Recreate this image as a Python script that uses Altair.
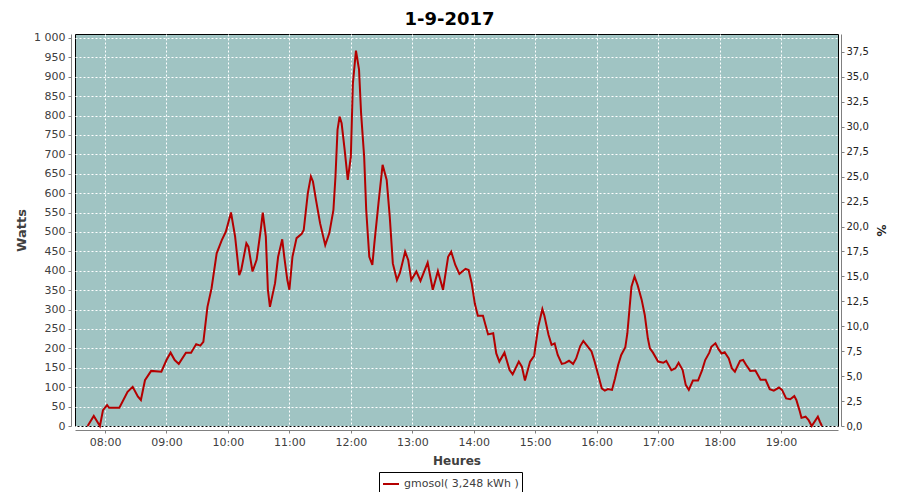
import altair as alt
import pandas as pd

TITLE = "1-9-2017"
SERIES = "gmosol( 3,248 kWh )"

times = ["07:43","07:49","07:55","07:58","08:02","08:04","08:14","08:22","08:27","08:32",
         "08:35","08:39","08:45","08:55","09:00","09:04","09:08","09:12","09:19","09:24",
         "09:29","09:33","09:36","09:40","09:44","09:49","09:54","09:58","10:03","10:07",
         "10:11","10:13","10:18","10:20","10:24","10:28","10:32","10:34","10:37","10:39",
         "10:41","10:46","10:49","10:53","10:55","10:58","11:00","11:03","11:07","11:12",
         "11:14","11:18","11:21","11:23","11:26","11:30","11:35","11:39","11:43","11:45",
         "11:47","11:49","11:51","11:54","11:57","12:00","12:02","12:05","12:08","12:10",
         "12:13","12:15","12:18","12:21","12:23","12:27","12:31","12:35","12:38","12:41",
         "12:45","12:48","12:53","12:56","12:59","13:04","13:08","13:15","13:20","13:25",
         "13:30","13:35","13:38","13:42","13:46","13:52","13:55","13:58","14:01","14:04",
         "14:09","14:14","14:19","14:22","14:25","14:30","14:35","14:38","14:44","14:47",
         "14:50","14:55","14:59","15:03","15:07","15:09","15:13","15:16","15:19","15:22",
         "15:26","15:29","15:33","15:37","15:40","15:44","15:47","15:50","15:55","15:58",
         "16:02","16:05","16:08","16:11","16:15","16:18","16:21","16:24","16:28","16:30",
         "16:32","16:34","16:37","16:40","16:44","16:47","16:50","16:52","16:55","17:00",
         "17:05","17:08","17:13","17:17","17:20","17:24","17:27","17:30","17:34","17:39",
         "17:43","17:46","17:50","17:52","17:56","17:59","18:02","18:05","18:09","18:12",
         "18:15","18:20","18:23","18:26","18:30","18:35","18:40","18:45","18:49","18:53",
         "18:58","19:01","19:05","19:09","19:13","19:15","19:18","19:20","19:24","19:27",
         "19:30","19:36","19:38","19:40"]

watts = [0, 26, 0, 41, 54, 47, 47, 88, 101, 76,
         67, 118, 142, 140, 170, 189, 170, 160, 189, 189,
         211, 207, 217, 307, 355, 445, 479, 501, 550, 488,
         389, 402, 471, 462, 398, 428, 505, 550, 488, 351,
         307, 368, 436, 481, 436, 376, 351, 436, 484, 495,
         505, 600, 643, 630, 582, 522, 466, 497, 557, 643,
         763, 797, 780, 711, 634, 694, 883, 967, 918, 806,
         694, 557, 436, 415, 471, 574, 673, 634, 539, 419,
         376, 395, 449, 428, 376, 398, 374, 421, 351, 399,
         351, 436, 449, 415, 392, 405, 402, 368, 316, 284,
         284, 236, 239, 187, 166, 189, 144, 133, 166, 153,
         117, 166, 181, 256, 301, 284, 235, 209, 213, 183,
         160, 162, 168, 160, 174, 206, 219, 209, 192, 166,
         127, 97, 91, 95, 93, 123, 157, 183, 203, 239,
         299, 359, 385, 363, 325, 286, 226, 200, 189, 166,
         163, 168, 144, 149, 163, 144, 106, 93, 117, 117,
         144, 170, 189, 204, 213, 198, 187, 190, 174, 149,
         140, 168, 170, 157, 142, 143, 119, 119, 95, 91,
         99, 93, 71, 69, 77, 67, 41, 21, 24, 15,
         0, 24, 11, 0]

hour_ticks = list(range(8, 20))

W_MAX = 1010
PCT_MAX = 39.3

df = pd.DataFrame({
    "t": ["2017-09-01T" + s + ":00" for s in times],
    "w": watts,
    "series": SERIES,
})

FONT = "DejaVu Sans"


def dt(h, m=0, s=0):
    return alt.DateTime(year=2017, month=9, date=1, hours=h, minutes=m, seconds=s)


xscale = alt.Scale(domain=[dt(7, 30, 40), dt(19, 55, 40)])

xaxis = alt.Axis(title="Heures", format="%H:%M", values=[dt(h) for h in hour_ticks],
                 grid=True, gridColor="white", gridDash=[2, 2], gridWidth=1,
                 domainColor="#808080", tickColor="#808080", tickSize=3, offset=4,
                 labelFont=FONT, labelFontSize=11, labelColor="#404040", labelPadding=3,
                 titleFont=FONT, titleFontSize=12, titleFontWeight="bold", titleColor="#404040",
                 titlePadding=8, labelFlush=False)

yaxis = alt.Axis(title="Watts", values=list(range(0, 1001, 50)), format=",d",
                 grid=True, gridColor="white", gridDash=[2, 2], gridWidth=1,
                 domainColor="#808080", tickColor="#808080", tickSize=3, offset=4,
                 labelFont=FONT, labelFontSize=11, labelColor="#404040", labelPadding=3,
                 titleFont=FONT, titleFontSize=13, titleFontWeight="bold", titleColor="#404040",
                 titlePadding=5)

line = alt.Chart(df).mark_line(strokeWidth=2).encode(
    x=alt.X("t:T", scale=xscale, axis=xaxis),
    y=alt.Y("w:Q", scale=alt.Scale(domain=[0, W_MAX], nice=False, zero=True), axis=yaxis),
    color=alt.Color("series:N", scale=alt.Scale(domain=[SERIES], range=["#b40000"]),
                    legend=alt.Legend(orient="none", legendX=304, legendY=438,
                                      strokeColor="black", padding=3, symbolType="stroke",
                                      symbolSize=256, symbolStrokeWidth=2,
                                      labelFont=FONT, labelFontSize=11, labelColor="#404040",
                                      fillColor="white")),
)

right = alt.Chart(df).transform_calculate(
    pct=f"datum.w * {PCT_MAX} / {W_MAX}"
).mark_line(strokeOpacity=0).encode(
    x=alt.X("t:T", scale=xscale),
    y=alt.Y("pct:Q", scale=alt.Scale(domain=[0, PCT_MAX], nice=False, zero=True),
            axis=alt.Axis(title="%", orient="right", values=[i * 2.5 for i in range(16)],
                          format=".1f",
                          grid=False, domainColor="#808080", tickColor="#808080",
                          tickSize=3, offset=3, labelFont=FONT, labelFontSize=10,
                          labelColor="#222222", labelPadding=2,
                          titleFont=FONT, titleFontSize=12, titleColor="#222222",
                          titleAngle=90, titlePadding=5)),
)

chart = alt.layer(line, right).resolve_scale(y="independent").properties(
    width=763, height=392,
    autosize=alt.AutoSizeParams(type="none"),
    padding={"left": 67, "top": 26, "right": 54, "bottom": 66},
    title=alt.TitleParams(TITLE, font=FONT, fontSize=18, fontWeight="bold", color="black",
                          anchor="middle", dx=-7, offset=3),
).configure(
    locale=alt.Locale(number=alt.NumberLocale(decimal=",", thousands="\u00a0", grouping=[3],
                                              currency=["", " €"]))
).configure_view(fill="#a0c4c3", stroke="black", strokeWidth=1).configure_legend(title=None)

chart.save("out.html", embed_options={"renderer": "svg", "actions": False})
